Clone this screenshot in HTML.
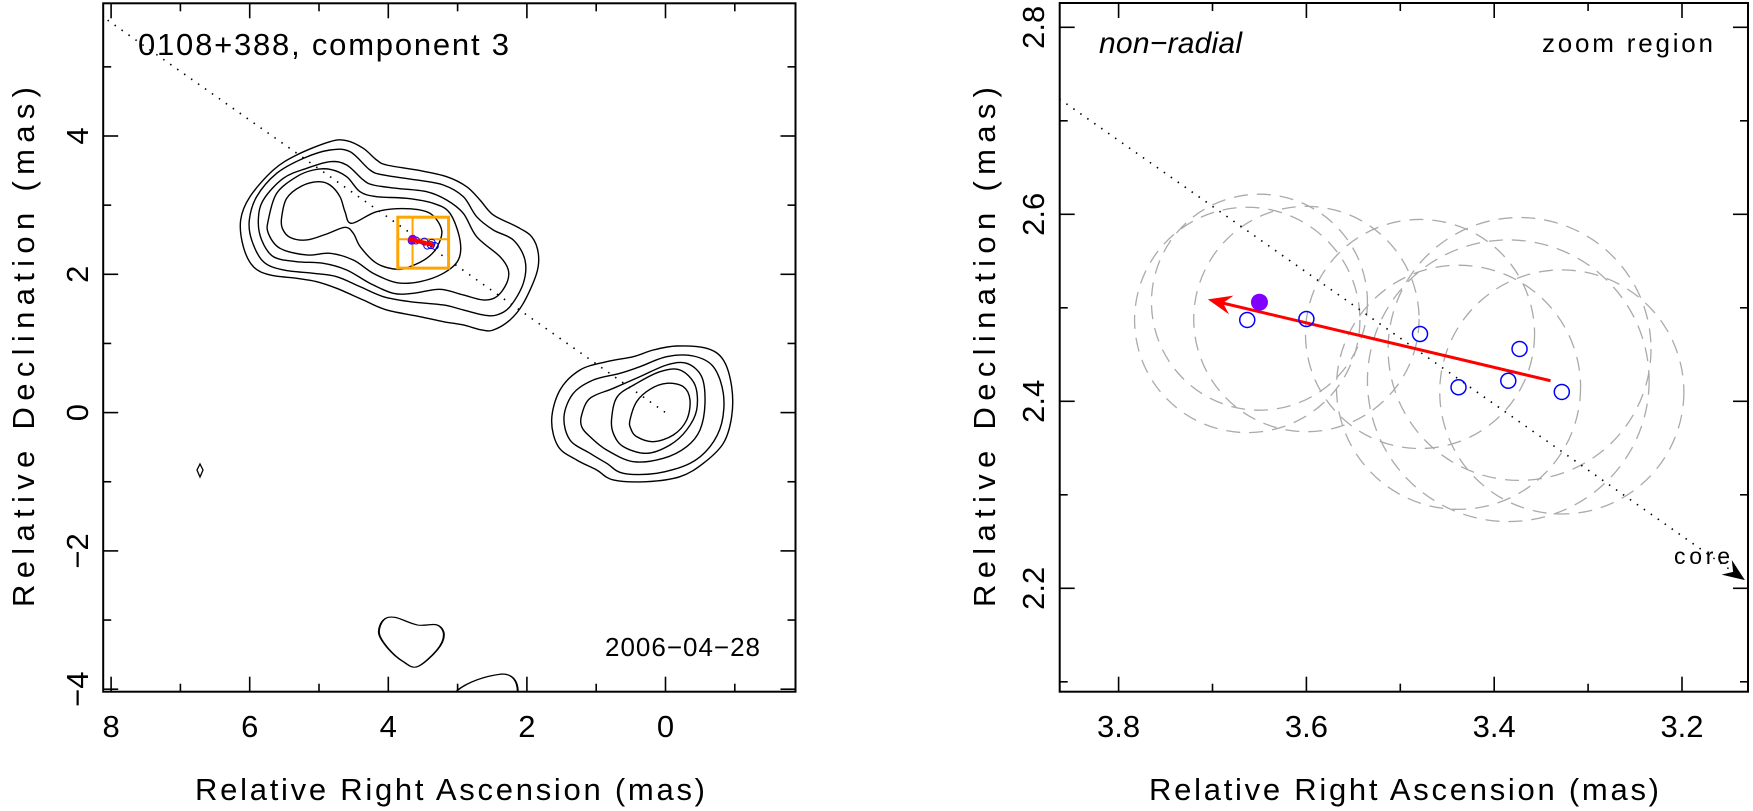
<!DOCTYPE html>
<html><head><meta charset="utf-8"><style>
html,body{margin:0;padding:0;background:#fff;}
svg{display:block;}
text{font-family:"Liberation Sans",sans-serif;fill:#000;}
</style></head><body>
<svg id="fig" width="1753" height="811" viewBox="0 0 1753 811" xmlns="http://www.w3.org/2000/svg">
  <g id="left"></g>
  <g id="right"></g>
</svg>
<script>
// ---------- data ----------
const rightXTicks = [3.2, 3.4, 3.6, 3.8];
const rightYTicks = [2.2, 2.4, 2.6, 2.8];
const leftXTicks = [0, 2, 4, 6, 8];
const leftYTicks = [-4, -2, 0, 2, 4];
const epochRA  = [3.663, 3.600, 3.479, 3.438, 3.373, 3.385, 3.328];
const epochDec = [2.487, 2.488, 2.472, 2.415, 2.456, 2.422, 2.410];
const epochErr = [0.12, 0.12, 0.122, 0.13, 0.14, 0.15, 0.13];
const currentRA = [3.650];
const currentDec = [2.506];
const currentErr = [0.115];
const motionStart = [3.340, 2.422];
const motionEnd = [3.705, 2.509];
const jetSlope = [0.705];

const NS = "http://www.w3.org/2000/svg";
function mk(parent, tag, attrs, txt){
  const e = document.createElementNS(NS, tag);
  for (const k in attrs) e.setAttribute(k, attrs[k]);
  if (txt !== undefined) e.textContent = txt;
  parent.appendChild(e);
  return e;
}
const lx = v => 665.5 - 69.3 * v;
const ly = v => 412.6 - 69.15 * v;
const rx = v => 1118.6 + (3.8 - v) * 939;
const ry = v => 27.3 + (2.8 - v) * 935;
const L = document.getElementById('left');
const R = document.getElementById('right');

function smooth(pts){
  const n = pts.length; let d = `M${pts[0][0]},${pts[0][1]}`;
  for (let i=0;i<n;i++){
    const p0=pts[(i-1+n)%n],p1=pts[i],p2=pts[(i+1)%n],p3=pts[(i+2)%n];
    const c1=[p1[0]+(p2[0]-p0[0])/6,p1[1]+(p2[1]-p0[1])/6];
    const c2=[p2[0]-(p3[0]-p1[0])/6,p2[1]-(p3[1]-p1[1])/6];
    d+=` C${c1[0].toFixed(1)},${c1[1].toFixed(1)} ${c2[0].toFixed(1)},${c2[1].toFixed(1)} ${p2[0]},${p2[1]}`;
  }
  return d+'Z';
}

function frame(g, x0, y0, x1, y1, name){
  const r = mk(g,'rect',{x:x0,y:y0,width:x1-x0,height:y1-y0,fill:'none',stroke:'#000','stroke-width':2});
  
  
}
frame(L,103.2,3.3,795.5,691.7,'left-plot-frame');
frame(R,1059.7,3,1748,691.7,'right-plot-frame');

function ticks(g, fx, fy, xs, ys, box){
  const [x0,y0,x1,y1]=box;
  xs.forEach(([v,maj])=>{const X=fx(v),len=maj?15:8;
    mk(g,'line',{x1:X,y1:y1,x2:X,y2:y1-len,stroke:'#000','stroke-width':1.6});
    mk(g,'line',{x1:X,y1:y0,x2:X,y2:y0+len,stroke:'#000','stroke-width':1.6});});
  ys.forEach(([v,maj])=>{const Y=fy(v),len=maj?15:8;
    mk(g,'line',{x1:x0,y1:Y,x2:x0+len,y2:Y,stroke:'#000','stroke-width':1.6});
    mk(g,'line',{x1:x1,y1:Y,x2:x1-len,y2:Y,stroke:'#000','stroke-width':1.6});});
}
const lxt=[],lyt=[],rxt=[],ryt=[];
for(let v=-1;v<=8;v++) lxt.push([v,v%2===0]);
for(let v=-4;v<=5;v++) lyt.push([v,v%2===0]);
for(let i=2;i<=8;i++) rxt.push([i/10+3,i%2===0]);
for(let i=1;i<=8;i++) ryt.push([i/10+2,i%2===0]);
ticks(L,lx,ly,lxt,lyt,[103.2,3.3,795.5,691.7]);
ticks(R,rx,ry,rxt,ryt,[1059.7,3,1748,691.7]);

const fmt = v => (v<0?'\u2212':'')+Math.abs(v);
leftXTicks.forEach(v=>{const t=mk(L,'text',{x:lx(v),y:737,'font-size':31,'text-anchor':'middle'},fmt(v));
   });
leftYTicks.forEach(v=>{const t=mk(L,'text',{x:0,y:0,'font-size':31,'text-anchor':'middle',transform:`translate(88,${ly(v)}) rotate(-90)`},fmt(v));
   });
rightXTicks.forEach(v=>{const t=mk(R,'text',{x:rx(v),y:737,'font-size':31,'text-anchor':'middle'},v.toFixed(1));
   });
rightYTicks.forEach(v=>{const t=mk(R,'text',{x:0,y:0,'font-size':31,'text-anchor':'middle',transform:`translate(1044,${ry(v)}) rotate(-90)`},v.toFixed(1));
   });

let t;
t=mk(L,'text',{x:195,y:800,'font-size':31,textLength:510,lengthAdjust:'spacing'},'Relative Right Ascension (mas)');
 
t=mk(L,'text',{x:0,y:0,'font-size':31,textLength:520,lengthAdjust:'spacing',transform:'translate(34,607) rotate(-90)'},'Relative Declination (mas)');
 
t=mk(R,'text',{x:1149,y:800,'font-size':31,textLength:510,lengthAdjust:'spacing'},'Relative Right Ascension (mas)');
 
t=mk(R,'text',{x:0,y:0,'font-size':31,textLength:520,lengthAdjust:'spacing',transform:'translate(995,607) rotate(-90)'},'Relative Declination (mas)');
 

t=mk(L,'text',{x:138,y:55,'font-size':31,'font-family':'Liberation Serif, serif',textLength:371,lengthAdjust:'spacing'},'0108+388, component 3');
 
t=mk(L,'text',{x:605,y:656,'font-size':26,textLength:155,lengthAdjust:'spacing'},'2006\u221204\u221228');
 
t=mk(R,'text',{x:1099,y:53,'font-size':30,'font-style':'italic','font-family':'Liberation Serif, serif',textLength:143,lengthAdjust:'spacing'},'non\u2212radial');
 
t=mk(R,'text',{x:1542,y:52,'font-size':26,textLength:171,lengthAdjust:'spacing'},'zoom region');
 
t=mk(R,'text',{x:1674,y:564,'font-size':23,textLength:56,lengthAdjust:'spacing'},'core');
 

const cg = mk(L,'g',{transform:'translate(230,130) scale(0.3333)',fill:'none',stroke:'#000','stroke-width':4.2});
 
const comp = [
 [[32,270],[60,200],[130,120],[200,75],[300,35],[350,32],[400,55],[440,90],[470,105],[560,120],[650,140],[710,170],[750,210],[790,255],[860,290],[905,320],[925,370],[920,430],[880,520],[840,570],[790,600],[755,600],[700,585],[640,575],[570,560],[470,540],[400,510],[320,475],[260,455],[200,445],[120,435],[70,410],[40,350]],
 [[58,270],[80,200],[140,130],[220,85],[300,60],[360,65],[420,120],[460,135],[560,150],[640,165],[700,200],[740,260],[790,300],[850,330],[885,390],[880,460],[840,530],[800,555],[760,555],[700,540],[640,525],[540,515],[460,500],[390,470],[320,440],[250,430],[160,420],[100,395],[65,330]],
 [[85,270],[100,210],[160,145],[230,115],[300,95],[350,105],[400,150],[430,165],[500,175],[590,185],[650,210],[700,250],[740,320],[810,380],[835,420],[830,460],[800,500],[760,510],[700,495],[630,478],[550,490],[490,490],[420,460],[350,420],[280,400],[200,395],[130,380],[95,330]],
 [[115,270],[140,190],[200,140],[250,120],[300,118],[350,140],[390,185],[440,200],[530,205],[610,220],[660,250],[690,330],[685,390],[640,430],[570,455],[500,458],[430,430],[370,390],[300,370],[230,375],[150,355],[115,310]],
 [[155,262],[170,205],[215,168],[265,155],[300,165],[330,200],[345,245],[365,280],[440,245],[530,236],[600,250],[635,300],[622,350],[590,385],[540,410],[500,418],[440,400],[392,352],[370,310],[345,292],[290,312],[230,330],[180,322],[157,295]]
];
comp.forEach(p=>{const e=mk(cg,'path',{d:smooth(p)});  });
const kg = mk(L,'g',{transform:'translate(540,330) scale(0.3333)',fill:'none',stroke:'#000','stroke-width':4.2});
 
const core = [
 [[35,270],[60,180],[120,120],[200,95],[280,80],[340,60],[410,48],[500,55],[550,90],[575,170],[575,260],[550,340],[490,400],[420,440],[320,455],[220,450],[170,420],[110,390],[55,350]],
 [[72,260],[100,190],[160,150],[240,130],[300,110],[380,80],[460,78],[520,110],[550,190],[545,280],[510,350],[450,400],[350,430],[250,430],[200,400],[150,370],[90,330]],
 [[125,255],[150,205],[220,175],[300,140],[380,105],[440,100],[485,140],[495,220],[480,300],[440,350],[370,385],[280,395],[200,360],[150,320],[125,290]],
 [[215,265],[232,200],[290,160],[360,125],[420,120],[465,165],[470,240],[440,300],[390,345],[320,370],[250,350],[220,310]],
 [[270,270],[290,215],[330,178],[380,160],[430,170],[450,210],[440,270],[400,315],[340,335],[290,320],[272,295]]
];
core.forEach(p=>{const e=mk(kg,'path',{d:smooth(p)});  });
const bg = mk(L,'g',{transform:'translate(0,600) scale(0.564,0.3333)',fill:'none',stroke:'#000','stroke-width':3.5});
let e = mk(bg,'path',{d:smooth([[680,60],[700,52],[740,75],[775,75],[787,105],[775,150],[740,200],[715,185],[688,145],[672,100]])});
 
e = mk(bg,'path',{d:'M810,272 C830,245 860,228 890,222 C910,222 918,245 918,275'});
 
e = mk(L,'path',{d:'M200,464 L203,470 L200,477 L197,470 Z',fill:'none',stroke:'#000','stroke-width':1.3});
 

e = mk(L,'line',{x1:lx(8.05),y1:ly(8.05*jetSlope[0]),x2:lx(-0.05),y2:ly(-0.05*jetSlope[0]),stroke:'#000','stroke-width':1.6,'stroke-dasharray':'1.5 7'});
 

e = mk(L,'rect',{x:lx(3.863),y:ly(2.826),width:lx(3.13)-lx(3.863),height:ly(2.089)-ly(2.826),fill:'none',stroke:'#FFA500','stroke-width':3});
 
e = mk(L,'line',{x1:lx(currentRA[0]),y1:ly(2.826),x2:lx(currentRA[0]),y2:ly(2.089),stroke:'#FFA500','stroke-width':2});
 
e = mk(L,'line',{x1:lx(3.863),y1:ly(currentDec[0]),x2:lx(3.13),y2:ly(currentDec[0]),stroke:'#FFA500','stroke-width':2});
 
epochRA.forEach((v,i)=>{const c=mk(L,'circle',{cx:lx(v),cy:ly(epochDec[i]),r:3.5,fill:'none',stroke:'#0000FF','stroke-width':1});
   });
e = mk(L,'circle',{cx:lx(currentRA[0]),cy:ly(currentDec[0]),r:4.5,fill:'#7F00FF'});
 
e = mk(L,'line',{x1:lx(motionStart[0]),y1:ly(motionStart[1]),x2:lx(motionEnd[0]),y2:ly(motionEnd[1]),stroke:'#FF0000','stroke-width':4});
 

const clip = mk(mk(R,'defs',{}),'clipPath',{id:'rc'});
mk(clip,'rect',{x:1059.7,y:3,width:688.3,height:688.7});
const rg = mk(R,'g',{'clip-path':'url(#rc)'});
 
const sx = 939;
epochRA.forEach((v,i)=>{const c=mk(rg,'circle',{cx:rx(v),cy:ry(epochDec[i]),r:epochErr[i]*sx,fill:'none',stroke:'#aaa','stroke-width':1.3,'stroke-dasharray':'14 9'});
   });
currentRA.forEach((v,i)=>{const c=mk(rg,'circle',{cx:rx(v),cy:ry(currentDec[i]),r:currentErr[i]*sx,fill:'none',stroke:'#aaa','stroke-width':1.3,'stroke-dasharray':'14 9'});
   });
const jx0=3.863, jx1=3.135;
e = mk(rg,'line',{x1:rx(jx0),y1:ry(jx0*jetSlope[0]),x2:rx(jx1),y2:ry(jx1*jetSlope[0]),stroke:'#000','stroke-width':1.6,'stroke-dasharray':'1.5 7'});
 
function arrowHead(g,x1,y1,x2,y2,col,size,name){
  const a=Math.atan2(y2-y1,x2-x1),s=size;
  const p=[[x2,y2],[x2-s*Math.cos(a-0.38),y2-s*Math.sin(a-0.38)],[x2-0.6*s*Math.cos(a),y2-0.6*s*Math.sin(a)],[x2-s*Math.cos(a+0.38),y2-s*Math.sin(a+0.38)]];
  const h=mk(g,'polygon',{points:p.map(q=>q.join(',')).join(' '),fill:col});
   
}
arrowHead(R,rx(3.16),ry(3.16*jetSlope[0]),rx(3.133),ry(3.133*jetSlope[0]),'#000',24,'core-arrowhead');
e = mk(R,'line',{x1:rx(motionStart[0]),y1:ry(motionStart[1]),x2:rx(motionEnd[0])+10,y2:ry(motionEnd[1])+2.5,stroke:'#FF0000','stroke-width':3});
 
arrowHead(R,rx(motionStart[0]),ry(motionStart[1]),rx(motionEnd[0]),ry(motionEnd[1]),'#FF0000',26,'motion-arrowhead');
epochRA.forEach((v,i)=>{const c=mk(R,'circle',{cx:rx(v),cy:ry(epochDec[i]),r:7.5,fill:'none',stroke:'#0000FF','stroke-width':1.5});
   });
currentRA.forEach((v,i)=>{const c=mk(R,'circle',{cx:rx(v),cy:ry(currentDec[i]),r:8.5,fill:'#7F00FF'});
   });
</script>
</body></html>
